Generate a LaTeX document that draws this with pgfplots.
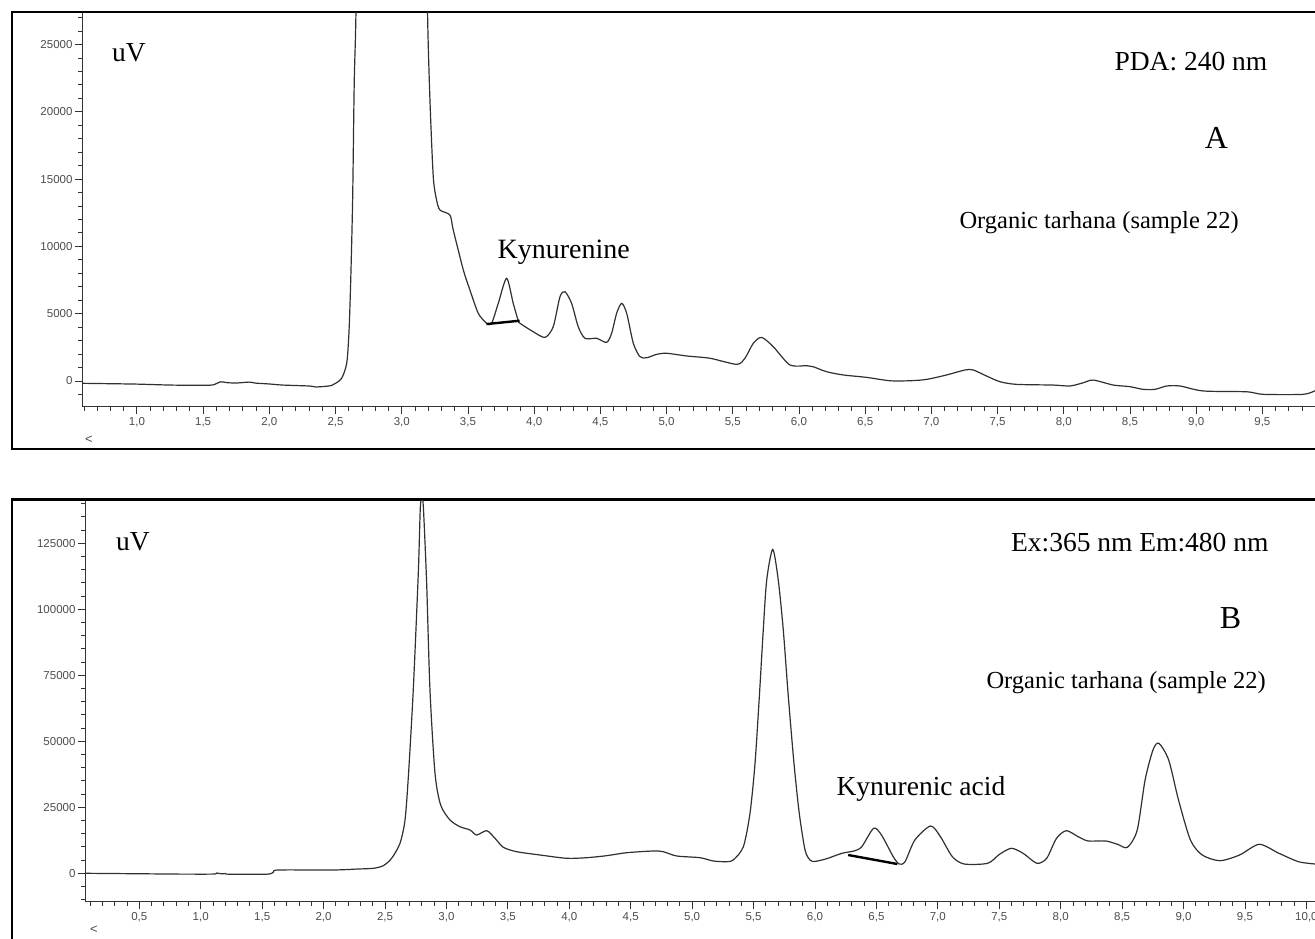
\documentclass[border=0pt]{standalone}
\usepackage{fontspec}
\setmainfont{Liberation Serif}
\newfontfamily\tickfont{Liberation Sans}
\usepackage{pgfplots}
\pgfplotsset{compat=1.18}

\definecolor{trace}{HTML}{303030}
\definecolor{ticklbl}{HTML}{4D4D4D}

\pgfplotsset{chrom/.style={
  scale only axis, clip=true,
  axis x line*=bottom, axis y line*=left,
  axis line style={-, black!80, line width=1pt},
  tick align=outside, major tick length=7pt, minor tick length=4pt,
  every tick/.style={black!80, line width=0.9pt},
  scaled y ticks=false,
  tick label style={font=\tickfont\fontsize{11.5}{12}\selectfont, text=ticklbl},
  /pgf/number format/assume math mode=true,
  yticklabel style={/pgf/number format/fixed, /pgf/number format/set thousands separator={}, xshift=1pt},
  xticklabel style={/pgf/number format/.cd, use comma, fixed, fixed zerofill, precision=1},
}}

\begin{document}
\begin{tikzpicture}[x=1pt,y=1pt]
\useasboundingbox (0,0) rectangle (1315,938);
\clip (0,0) rectangle (1315,938);
\fill[white] (0,0) rectangle (1315,938);

% panel frames
\draw[line width=2.8pt] (12,926) rectangle (1340,489);
\draw[line width=2.8pt] (12,438.5) rectangle (1340,-20);

% ---- A: PDA 240 nm
\begin{axis}[chrom, at={(82pt,531pt)}, anchor=south west,
  width=1233pt, height=394pt,
  xmin=0.585, xmax=9.898, ymin=-1930, ymax=27340,
  xtick={1,1.5,...,9.5}, minor xtick={0.6,0.7,...,9.9},
  ytick={0,5000,...,25000}, minor ytick={-1000,0,...,27000}]
\addplot[trace, line width=1.2pt, smooth, tension=0.45] coordinates {
(0.585,-170) (0.8,-200) (1.0,-230) (1.25,-300) (1.5,-320) (1.58,-280)
(1.63,-60) (1.68,-120) (1.75,-150) (1.85,-80) (1.9,-160) (2.0,-220)
(2.1,-300) (2.3,-370) (2.35,-440) (2.42,-400) (2.47,-330) (2.50,-170)
(2.546,200) (2.584,1300) (2.601,3540) (2.614,7260) (2.629,13450)
(2.641,22100) (2.654,27300) (2.67,40000) (3.18,40000) (3.195,27300)
(3.213,20880) (3.238,15180) (3.263,13450) (3.289,12700) (3.364,12330)
(3.389,11220) (3.465,8250) (3.515,6760) (3.578,5030) (3.641,4290)
(3.679,4290) (3.729,5770) (3.792,7630) (3.842,5770) (3.880,4480)
(3.893,4290) (3.993,3660) (4.082,3240) (4.144,4030) (4.195,6260)
(4.233,6630) (4.283,5770) (4.333,4030) (4.384,3170) (4.472,3170)
(4.547,2870) (4.585,3540) (4.623,5030) (4.661,5770) (4.699,5030)
(4.749,2800) (4.799,1810) (4.850,1730) (4.925,1980) (5.001,2060)
(5.152,1860) (5.328,1690) (5.530,1240) (5.592,1690) (5.655,2800)
(5.718,3240) (5.806,2550) (5.932,1190) (6.058,1140) (6.108,1060)
(6.209,690) (6.335,450) (6.511,270) (6.687,20) (6.838,20) (6.964,120)
(7.115,450) (7.254,820) (7.316,820) (7.417,370) (7.518,-50) (7.644,-250)
(7.921,-300) (8.047,-370) (8.147,-130) (8.223,70) (8.374,-300)
(8.500,-420) (8.600,-620) (8.689,-620) (8.777,-370) (8.878,-370)
(9.054,-740) (9.381,-800) (9.507,-990) (9.809,-990) (9.897,-720)};
% integration baseline
\addplot[black, line width=2.4pt] coordinates {(3.64,4230) (3.89,4480)};
\end{axis}

% ---- B: Ex 365 / Em 480
\begin{axis}[chrom, at={(85pt,36.3pt)}, anchor=south west,
  width=1230pt, height=400.7pt,
  xmin=0.058, xmax=10.07, ymin=-10760, ymax=141030,
  xtick={0.5,1,...,10}, minor xtick={0.1,0.2,...,10.0},
  ytick={0,25000,...,125000}, minor ytick={-10000,-5000,...,140000}]
\addplot[trace, line width=1.2pt, smooth, tension=0.45] coordinates {
(0.058,0) (0.56,-200) (0.8,-300) (1.10,-300) (1.13,100) (1.17,-200)
(1.2,-100) (1.23,-350) (1.537,-350) (1.591,380) (1.632,1250) (2.08,1250)
(2.283,1630) (2.405,1890) (2.486,2880) (2.554,5680) (2.622,11360)
(2.663,20190) (2.690,36590) (2.730,69430) (2.771,113640) (2.787,138000)
(2.800,143000) (2.813,138000) (2.839,109850) (2.866,69430) (2.907,37880)
(2.953,25870) (3.029,20190) (3.110,17650) (3.192,16400) (3.246,14510)
(3.328,16140) (3.395,13260) (3.463,9850) (3.572,8180) (3.762,6930)
(3.979,5680) (4.142,5910) (4.304,6670) (4.467,7800) (4.684,8450)
(4.765,8180) (4.875,6550) (5.064,5910) (5.172,4660) (5.281,4390)
(5.335,5040) (5.417,10080) (5.471,22730) (5.512,41670) (5.547,66900)
(5.579,92160) (5.607,111100) (5.656,122700) (5.701,111100) (5.742,92160)
(5.783,66900) (5.829,41670) (5.872,22730) (5.919,8830) (5.96,5000)
(6.0,4500) (6.093,5500) (6.22,7580) (6.317,8450) (6.381,10080)
(6.477,17040) (6.541,14510) (6.637,6290) (6.685,3520) (6.733,4390)
(6.813,12610) (6.941,17920) (7.021,13870) (7.118,6290) (7.214,3520)
(7.406,3790) (7.502,7200) (7.598,9470) (7.694,7580) (7.806,3790)
(7.886,5680) (7.966,13260) (8.046,16140) (8.142,13870) (8.223,12240)
(8.367,12240) (8.463,10980) (8.543,9850) (8.623,16400) (8.687,35340)
(8.751,46700) (8.799,49240) (8.879,42920) (8.959,27770) (9.056,12610)
(9.152,6930) (9.296,4770) (9.456,6930) (9.616,10980) (9.776,7580)
(9.936,4390) (10.07,3520)};
\addplot[black, line width=2.4pt] coordinates {(6.27,6930) (6.67,3520)};
\end{axis}

% annotations
\node[anchor=base, font=\fontsize{27.5}{30}\selectfont] at (129,876) {uV};
\node[anchor=base west, font=\fontsize{27.5}{30}\selectfont] at (1111,867.3) {PDA: 240 nm};
\node[anchor=base, font=\fontsize{32}{34}\selectfont] at (1216.5,789.7) {A};
\node[anchor=base west, font=\fontsize{24.5}{27}\selectfont] at (956,709.7) {Organic tarhana (sample 22)};
\node[anchor=base west, font=\fontsize{28}{30}\selectfont] at (494,679.7) {Kynurenine};
\node[anchor=base, font=\fontsize{27.5}{30}\selectfont] at (133,387.3) {uV};
\node[anchor=base east, font=\fontsize{27.5}{30}\selectfont] at (1272,386.3) {Ex:365 nm Em:480 nm};
\node[anchor=base, font=\fontsize{32}{34}\selectfont] at (1230.5,309.7) {B};
\node[anchor=base west, font=\fontsize{24.5}{27}\selectfont] at (983,249) {Organic tarhana (sample 22)};
\node[anchor=base west, font=\fontsize{27.5}{30}\selectfont] at (833,143) {Kynurenic acid};
\node[text=ticklbl, font=\tickfont\fontsize{13}{14}\selectfont] at (89,498.7) {<};
\node[text=ticklbl, font=\tickfont\fontsize{13}{14}\selectfont] at (94,8) {<};
\end{tikzpicture}
\end{document}
